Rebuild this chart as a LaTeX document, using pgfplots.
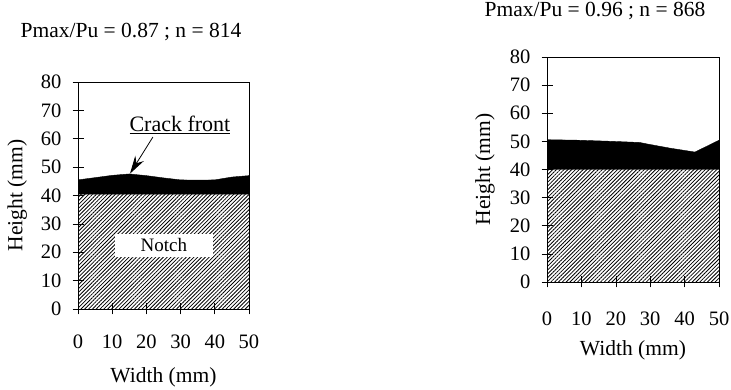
\documentclass[border=0pt]{standalone}
\usepackage{fontspec}
\setmainfont{Liberation Serif}
\usepackage{pgfplots}
\pgfplotsset{compat=1.18}
\usetikzlibrary{patterns.meta,arrows.meta}
\begin{document}
\begin{tikzpicture}
\path[use as bounding box] (0pt,0pt) rectangle (731pt,390pt);
\pgfplotsset{
  panel/.style={
    scale only axis, anchor=south west,
    xmin=0, xmax=50, ymin=0, ymax=80,
    xtick={0,10,...,50}, ytick={0,10,...,80},
    tick align=center, major tick length=11pt, tick pos=left,
    axis on top,
    axis line style={line width=0.6pt},
    every tick/.style={black, line width=0.6pt},
    /pgf/number format/assume math mode=true,
    tick label style={font=\fontsize{20.5}{22}\selectfont},
    xticklabel style={anchor=center, inner sep=0pt},
    yticklabel style={anchor=east, inner sep=0pt, xshift=-11pt},
    label style={font=\fontsize{21.5}{24}\selectfont},
    title style={font=\fontsize{21.5}{24}\selectfont, anchor=center},
    xlabel={Width (mm)}, ylabel={Height (mm)},
    ylabel style={at={(axis description cs:-0.355,0.5)}, anchor=center},
  },
  hatch/.style={draw=none, pattern={Lines[angle=45,distance=2.7pt,line width=0.8pt]}},
}
% Left panel
\begin{axis}[panel, at={(78pt,81pt)}, width=171pt, height=227pt,
  xticklabel style={yshift=-27pt},
  xlabel style={at={(axis description cs:0.5,-0.30)}, anchor=center},
  title={Pmax/Pu = 0.87 ; n = 814},
  title style={at={(axis description cs:0.31,1.194)}},
]
\addplot[hatch] coordinates {(0,40.5) (50,40.5)} \closedcycle;
\addplot[fill=black, draw=black] coordinates {
  (0,40.5) (0,45.5) (5,46.3) (10,47.1) (15,47.6) (20,47.0) (25,46.2)
  (30,45.5) (35,45.4) (40,45.5) (45,46.5) (50,47.0) (50,40.5)} -- cycle;
\node[fill=white, minimum width=98pt, minimum height=23pt, inner sep=0pt,
  font=\fontsize{19}{21}\selectfont] at (axis cs:25.1,22.5) {Notch};
\node[font=\fontsize{22}{24}\selectfont] at (axis cs:29.8,64.8) {\underline{Crack front}};
\draw[line width=0.8pt, -{Stealth[length=18pt,width=10pt]}] (axis cs:21.9,60.6) -- (axis cs:15.2,47.7);
\end{axis}
% Right panel
\begin{axis}[panel, at={(547pt,108pt)}, width=172pt, height=225pt,
  xticklabel style={yshift=-31pt},
  xlabel style={at={(axis description cs:0.5,-0.302)}, anchor=center},
  ylabel style={at={(axis description cs:-0.36,0.5)}},
  title={Pmax/Pu = 0.96 ; n = 868},
  title style={at={(axis description cs:0.279,1.178)}},
]
\addplot[hatch] coordinates {(0,40) (50,40)} \closedcycle;
\addplot[fill=black, draw=black] coordinates {
  (0,40) (0,50.6) (9.4,50.4) (19.2,50.0) (27,49.6) (29,49.1) (35.7,47.6)
  (43,46.2) (50,50.4) (50,40)} -- cycle;
\end{axis}
\end{tikzpicture}
\end{document}
